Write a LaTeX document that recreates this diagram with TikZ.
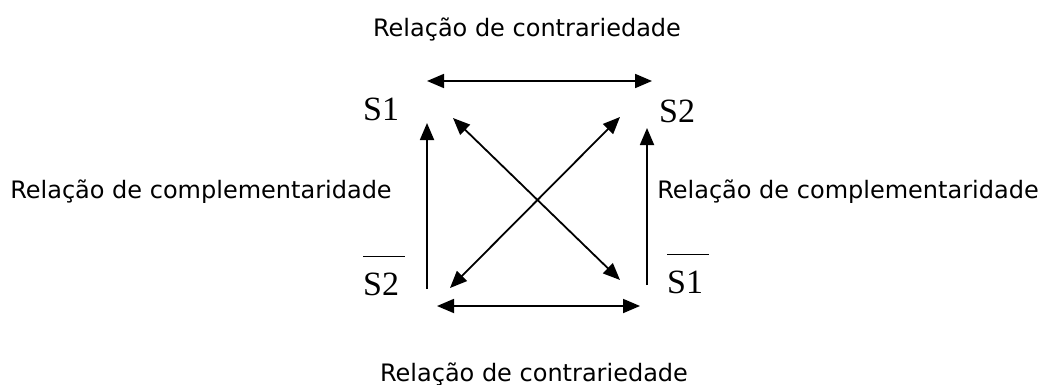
\documentclass[tikz,border=0pt]{standalone}
\usepackage{fontspec}
\setmainfont{Liberation Serif}
\newfontfamily\rotulo{DejaVu Sans}
\usetikzlibrary{arrows.meta}
\newcommand\negado[1]{\setbox0\hbox{#1}\vbox{\hrule height 1.6pt width \dimexpr\wd0+6pt\relax\kern 15pt\box0}}

\begin{document}
\begin{tikzpicture}[x=1pt,y=-1pt,
  termo/.style={inner sep=0pt,anchor=base west,font=\fontsize{34}{38}\selectfont},
  relacao/.style={inner sep=0pt,anchor=base,font=\rotulo\fontsize{24}{28}\selectfont},
  ponta/.tip={Triangle[length=17pt,width=14pt]},
  dupla/.style={line width=1.8pt,ponta-ponta},
  simples/.style={line width=1.8pt,-ponta}]
\useasboundingbox (0,0) rectangle (1046,385);

\node[relacao] (contrTopo) at (527,37) {Relação de contrariedade};
\node[relacao] (contrBase) at (534,381) {Relação de contrariedade};
\node[relacao] (complEsq) at (201,198) {Relação de complementaridade};
\node[relacao] (complDir) at (848,198) {Relação de complementaridade};

\node[termo] (s1) at (363,121) {S1};
\node[termo] (s2) at (659,122) {S2};
\node[termo] (naoS2) at (363,295) {\negado{S2}};
\node[termo] (naoS1) at (667,293) {\negado{S1}};

\coordinate (topoE) at (427,81);
\coordinate (topoD) at (652,81);
\coordinate (baseE) at (437,306);
\coordinate (baseD) at (640,306);
\coordinate (vertE1) at (427,289);
\coordinate (vertE2) at (427,123);
\coordinate (vertD1) at (647,285);
\coordinate (vertD2) at (647,128);
\coordinate (diagA1) at (453,118);
\coordinate (diagA2) at (620,280);
\coordinate (diagB1) at (620,117);
\coordinate (diagB2) at (450,288);

\draw[dupla] (topoE) -- (topoD);
\draw[dupla] (baseE) -- (baseD);
\draw[simples] (vertE1) -- (vertE2);
\draw[simples] (vertD1) -- (vertD2);
\draw[dupla] (diagA1) -- (diagA2);
\draw[dupla] (diagB1) -- (diagB2);
\end{tikzpicture}
\end{document}
